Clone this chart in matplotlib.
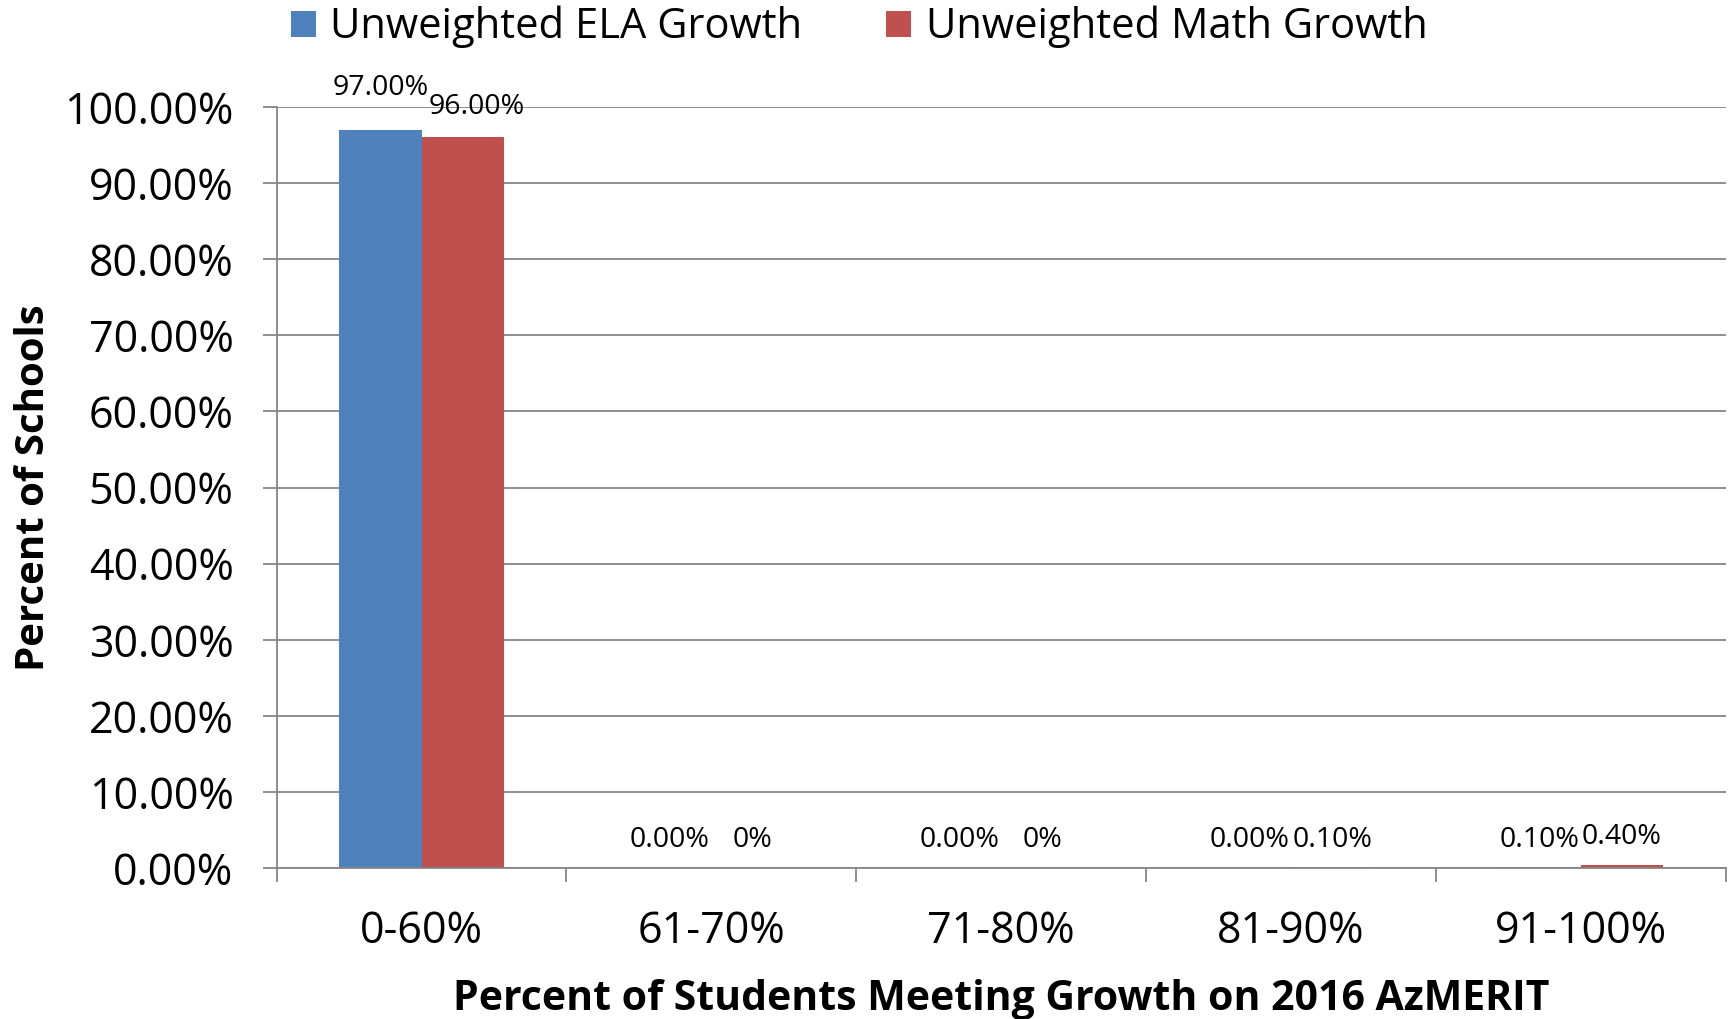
import numpy as np
import matplotlib
matplotlib.use("Agg")
import matplotlib.pyplot as plt
from matplotlib.ticker import FuncFormatter, MultipleLocator

plt.rcParams["font.family"] = ["Open Sans", "DejaVu Sans"]

categories = ["0-60%", "61-70%", "71-80%", "81-90%", "91-100%"]
ela = [97.0, 0.0, 0.0, 0.0, 0.1]
math_ = [96.0, 0.0, 0.0, 0.1, 0.4]
ela_labels = ["97.00%", "0.00%", "0.00%", "0.00%", "0.10%"]
math_labels = ["96.00%", "0%", "0%", "0.10%", "0.40%"]

blue = "#4F81BD"
red = "#C0504D"
grid = "#868686"

fig = plt.figure(figsize=(17.29, 10.19), dpi=100)
ax = fig.add_axes([0.160, 0.148, 0.838, 0.747])

x = np.arange(len(categories))
w = 0.285
b1 = ax.bar(x - w / 2, ela, w, color=blue, label="Unweighted ELA Growth", zorder=2)
b2 = ax.bar(x + w / 2, math_, w, color=red, label="Unweighted Math Growth", zorder=2)

for rect, lab in zip(b1, ela_labels):
    ax.annotate(lab, (rect.get_x() + rect.get_width() / 2, rect.get_height()),
                xytext=(0, 20 if rect.get_height() > 50 else 10), textcoords="offset points",
                ha="center", va="bottom", fontsize=20.5)
for rect, lab in zip(b2, math_labels):
    ax.annotate(lab, (rect.get_x() + rect.get_width() / 2, rect.get_height()),
                xytext=(10 if rect.get_height() > 50 else 0, 12 if rect.get_height() > 50 else 10),
                textcoords="offset points", ha="center", va="bottom", fontsize=20.5)

ax.set_xlim(-0.5, len(categories) - 0.5)
ax.set_ylim(0, 100)
ax.yaxis.set_major_locator(MultipleLocator(10))
ax.yaxis.set_major_formatter(FuncFormatter(lambda v, _: f"{v:.2f}%"))
ax.grid(axis="y", color=grid, linewidth=1.3, zorder=0)
ax.set_axisbelow(True)

ax.set_xticks(x)
ax.set_xticklabels(categories)
ax.set_xticks(np.arange(len(categories) + 1) - 0.5, minor=True)
ax.tick_params(axis="x", which="major", length=0, pad=30, labelsize=31)
ax.tick_params(axis="x", which="minor", length=10, width=1.3, color=grid)
ax.tick_params(axis="y", length=10, width=1.3, color=grid, labelsize=31, pad=21)

for s in ["top", "right"]:
    ax.spines[s].set_visible(False)
for s in ["left", "bottom"]:
    ax.spines[s].set_color(grid)
    ax.spines[s].set_linewidth(1.3)
    ax.spines[s].set_zorder(3)

ax.set_xlabel("Percent of Students Meeting Growth on 2016 AzMERIT",
              fontsize=29.5, fontweight="bold", labelpad=18)
ax.set_ylabel("Percent of Schools", fontsize=29, fontweight="bold", labelpad=8)

ax.legend(loc="upper center", bbox_to_anchor=(0.402, 1.182), ncol=2, frameon=False,
          fontsize=30, handlelength=0.6, handleheight=0.6, handletextpad=0.35,
          columnspacing=2.0)

fig.savefig("out.png", dpi=100)
